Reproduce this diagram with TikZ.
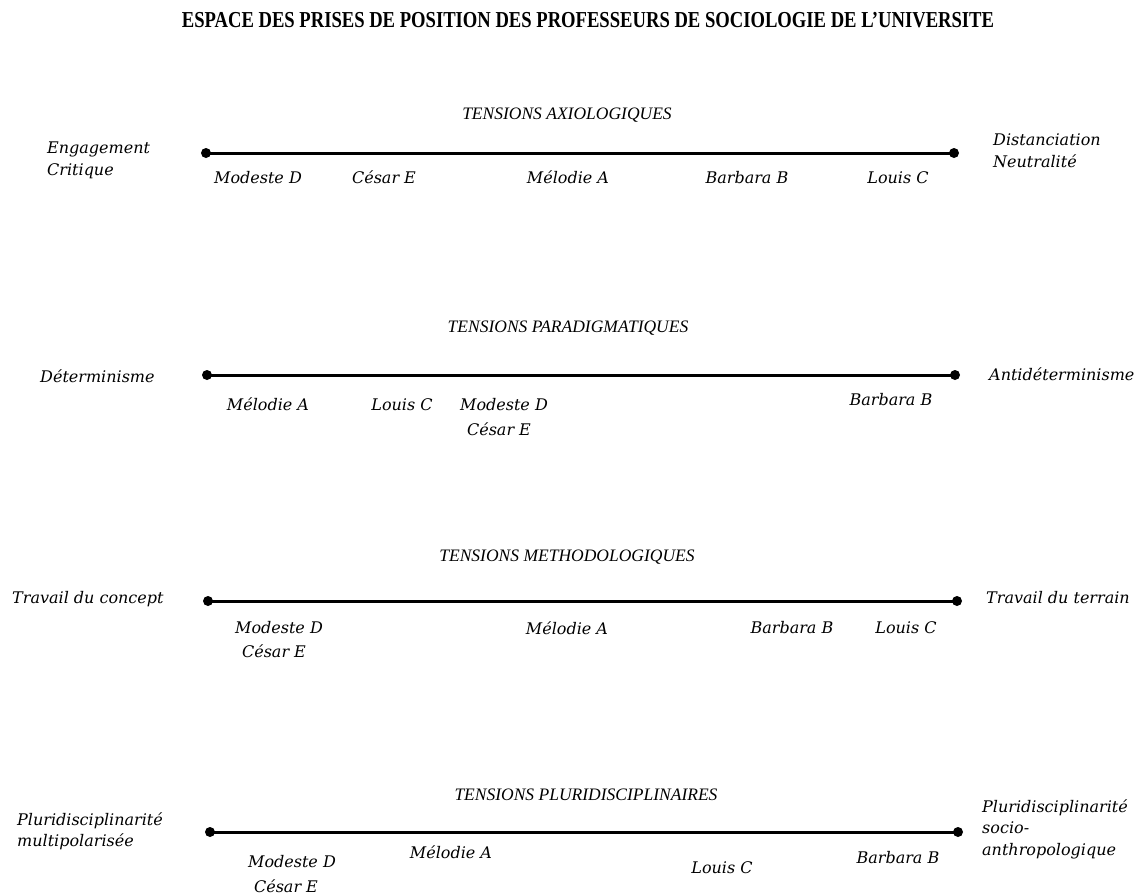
\documentclass[tikz,border=0pt]{standalone}
\usepackage{fontspec}
\setmainfont{Liberation Serif}
\newfontfamily\labfont{DejaVu Serif}
\begin{document}
\begin{tikzpicture}[x=1pt,y=-1pt,
  lab/.style={font=\labfont\itshape\fontsize{16}{18}\selectfont, inner sep=0pt, anchor=base},
  labw/.style={lab, anchor=base west},
  sect/.style={font=\itshape\fontsize{17.5}{20}\selectfont, inner sep=0pt, anchor=base},
  ttl/.style={font=\bfseries\fontsize{19}{22}\selectfont, inner sep=0pt, anchor=base},
  dotnode/.style={circle, fill=black, inner sep=0pt, minimum size=10pt},
  axis/.style={line width=3pt}]
\useasboundingbox (0,0) rectangle (1144,895);
\fill[white] (0,0) rectangle (1144,895);

\node[ttl] (title) at (588,27) {\scalebox{0.98}[1.2]{ESPACE DES PRISES DE POSITION DES PROFESSEURS DE SOCIOLOGIE DE L'UNIVERSITE}};

% Row 1
\node[sect] (t1) at (567,119) {TENSIONS AXIOLOGIQUES};
\node[dotnode] (a1) at (206,153) {};
\node[dotnode] (b1) at (954,153) {};
\draw[axis] (a1.center) -- (b1.center);
\node[labw] (l1a) at (47,153) {Engagement};
\node[labw] (l1b) at (47,175) {Critique};
\node[labw] (r1a) at (993,145) {Distanciation};
\node[labw] (r1b) at (993,167) {Neutralité};
\node[lab] (n1d) at (258,183) {Modeste D};
\node[lab] (n1e) at (384,183) {César E};
\node[lab] (n1a) at (568,183) {Mélodie A};
\node[lab] (n1b) at (747,183) {Barbara B};
\node[lab] (n1c) at (898,183) {Louis C};

% Row 2
\node[sect] (t2) at (568,332) {TENSIONS PARADIGMATIQUES};
\node[dotnode] (a2) at (207,375) {};
\node[dotnode] (b2) at (955,375) {};
\draw[axis] (a2.center) -- (b2.center);
\node[labw] (l2a) at (40,382) {Déterminisme};
\node[labw] (r2a) at (989,380) {Antidéterminisme};
\node[lab] (n2a) at (268,410) {Mélodie A};
\node[lab] (n2c) at (402,410) {Louis C};
\node[lab] (n2d) at (504,410) {Modeste D};
\node[lab] (n2e) at (499,435) {César E};
\node[lab] (n2b) at (891,405) {Barbara B};

% Row 3
\node[sect] (t3) at (567,561) {TENSIONS METHODOLOGIQUES};
\node[dotnode] (a3) at (208,601) {};
\node[dotnode] (b3) at (957,601) {};
\draw[axis] (a3.center) -- (b3.center);
\node[labw] (l3a) at (12,603) {Travail du concept};
\node[labw] (r3a) at (986,603) {Travail du terrain};
\node[lab] (n3d) at (279,633) {Modeste D};
\node[lab] (n3e) at (274,657) {César E};
\node[lab] (n3a) at (567,634) {Mélodie A};
\node[lab] (n3b) at (792,633) {Barbara B};
\node[lab] (n3c) at (906,633) {Louis C};

% Row 4
\node[sect] (t4) at (586,800) {TENSIONS PLURIDISCIPLINAIRES};
\node[dotnode] (a4) at (210,832) {};
\node[dotnode] (b4) at (958,832) {};
\draw[axis] (a4.center) -- (b4.center);
\node[labw] (l4a) at (17,825) {Pluridisciplinarité};
\node[labw] (l4b) at (17,846) {multipolarisée};
\node[labw] (r4a) at (982,812) {Pluridisciplinarité};
\node[labw] (r4b) at (982,833) {socio-};
\node[labw] (r4c) at (982,855) {anthropologique};
\node[lab] (n4d) at (292,867) {Modeste D};
\node[lab] (n4e) at (286,892) {César E};
\node[lab] (n4a) at (451,858) {Mélodie A};
\node[lab] (n4c) at (722,873) {Louis C};
\node[lab] (n4b) at (898,863) {Barbara B};
\end{tikzpicture}
\end{document}
